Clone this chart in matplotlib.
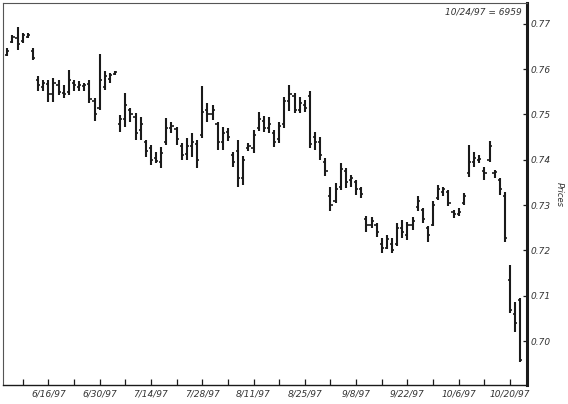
import numpy as np
import matplotlib
matplotlib.use("Agg")
import matplotlib.pyplot as plt

# daily bars 6/4/97 - 10/24/97 (trading days only)
opens = [.7632, .7660, .7668, .7662, .7672, .7640, .7575, .7560, .7568, .7545,
         .7565, .7548, .7550, .7570, .7560, .7562, .7568, .7530, .7515, .7560,
         .7578, .7590, .7480, .7490, .7510, .7495, .7465, .7440, .7425, .7405,
         .7395, .7440, .7470, .7468, .7430, .7412, .7430, .7435, .7455, .7510,
         .7500, .7480, .7440, .7462, .7410, .7420, .7360, .7425, .7425, .7470,
         .7485, .7470, .7460, .7445, .7480, .7530, .7540, .7510, .7520, .7540,
         .7450, .7440, .7395, .7320, .7310, .7340, .7375, .7355, .7350, .7335,
         .7270, .7255, .7255, .7215, .7205, .7215, .7215, .7250, .7235, .7255,
         .7295, .7290, .7250, .7255, .7315, .7330, .7330, .7285, .7280, .7305,
         .7370, .7395, .7400, .7375, .7400, .7370, .7355, .7320, .7135, .7060,
         .7090]
highs = [.7647, .7676, .7693, .7680, .7680, .7647, .7584, .7576, .7576, .7581,
         .7576, .7565, .7598, .7576, .7573, .7570, .7576, .7537, .7634, .7595,
         .7592, .7597, .7499, .7547, .7515, .7504, .7495, .7444, .7433, .7418,
         .7429, .7492, .7484, .7473, .7437, .7448, .7459, .7444, .7562, .7526,
         .7521, .7484, .7473, .7470, .7417, .7444, .7409, .7437, .7466, .7506,
         .7497, .7494, .7466, .7484, .7539, .7565, .7548, .7539, .7532, .7551,
         .7462, .7450, .7404, .7341, .7349, .7393, .7382, .7367, .7356, .7341,
         .7276, .7274, .7261, .7227, .7234, .7227, .7261, .7267, .7263, .7274,
         .7319, .7294, .7253, .7308, .7344, .7341, .7333, .7289, .7294, .7327,
         .7433, .7418, .7411, .7385, .7442, .7378, .7360, .7330, .7168, .7087,
         .7095]
lows = [.7629, .7658, .7643, .7658, .7669, .7621, .7551, .7551, .7528, .7528,
        .7543, .7536, .7543, .7551, .7551, .7551, .7526, .7486, .7510, .7554,
        .7570, .7587, .7462, .7473, .7484, .7444, .7444, .7407, .7389, .7392,
        .7381, .7433, .7459, .7433, .7400, .7400, .7407, .7381, .7448, .7484,
        .7488, .7422, .7422, .7442, .7385, .7341, .7345, .7420, .7415, .7464,
        .7462, .7459, .7429, .7437, .7470, .7508, .7503, .7503, .7506, .7426,
        .7422, .7400, .7364, .7286, .7305, .7333, .7338, .7341, .7322, .7316,
        .7241, .7250, .7230, .7194, .7203, .7194, .7210, .7227, .7223, .7245,
        .7286, .7261, .7219, .7253, .7311, .7319, .7297, .7272, .7275, .7300,
        .7363, .7385, .7392, .7356, .7396, .7360, .7322, .7219, .7062, .7021,
        .6954]
closes = [.7640, .7670, .7655, .7675, .7676, .7625, .7565, .7570, .7545, .7570,
          .7550, .7545, .7575, .7565, .7566, .7565, .7535, .7500, .7575, .7585,
          .7588, .7594, .7490, .7520, .7500, .7460, .7480, .7420, .7400, .7398,
          .7415, .7470, .7475, .7445, .7410, .7430, .7440, .7400, .7505, .7500,
          .7510, .7440, .7460, .7450, .7395, .7360, .7400, .7430, .7455, .7490,
          .7470, .7480, .7440, .7475, .7530, .7545, .7510, .7525, .7515, .7435,
          .7440, .7410, .7375, .7300, .7335, .7380, .7350, .7360, .7335, .7325,
          .7255, .7265, .7240, .7205, .7225, .7200, .7250, .7240, .7255, .7265,
          .7310, .7270, .7235, .7300, .7335, .7335, .7305, .7280, .7285, .7320,
          .7395, .7405, .7402, .7370, .7430, .7372, .7335, .7228, .7068, .7040,
          .6959]

date_labels = ["6/16/97", "6/30/97", "7/14/97", "7/28/97", "8/11/97",
               "8/25/97", "9/8/97", "9/22/97", "10/6/97", "10/20/97"]
yticks = [0.70, 0.71, 0.72, 0.73, 0.74, 0.75, 0.76, 0.77]

col = "#1a1a1a"
fig = plt.figure(figsize=(5.68, 4.04), dpi=100)
ax = fig.add_axes([3 / 568, 19 / 404, 523.7 / 568, 382 / 404])

x = np.arange(len(opens))
tk = 0.42
ax.vlines(x, lows, highs, color=col, lw=1.5)
ax.hlines(opens, x - tk, x, color=col, lw=1.2)
ax.hlines(closes, x, x + tk, color=col, lw=1.2)

ax.set_xlim(-0.84, 101.25)
ax.set_ylim(0.6903, 0.7746)

# weekly ticks, label every other one
wk = np.arange(3, 101, 5)
ax.set_xticks(wk)
ax.set_xticklabels([date_labels[i // 2] if i % 2 == 1 else "" for i in range(len(wk))],
                   fontsize=6.5, style="italic", color="#333333")
ax.tick_params(axis="x", direction="in", length=4.5, width=0.9, color=col, pad=3)

ax.yaxis.tick_right()
ax.yaxis.set_label_position("right")
ax.set_yticks(yticks)
ax.set_yticklabels([f"{v:.2f}" for v in yticks], fontsize=6.5, style="italic", color="#333333")
ax.tick_params(axis="y", direction="in", length=3, width=0.9, color=col, pad=3)
ax.set_ylabel("Prices", rotation=270, fontsize=6, style="italic", color="#333333", labelpad=9)

for s in ["left", "top"]:
    ax.spines[s].set_linewidth(0.8)
    ax.spines[s].set_color("#555555")
ax.spines["bottom"].set_linewidth(1.0)
ax.spines["bottom"].set_color(col)
ax.spines["right"].set_linewidth(2.2)
ax.spines["right"].set_color(col)

ax.text(0.991, 0.977, "10/24/97 = 6959", transform=ax.transAxes, ha="right", va="center",
        fontsize=6.5, style="italic", color="#333333")

fig.savefig("out.png", dpi=100)
